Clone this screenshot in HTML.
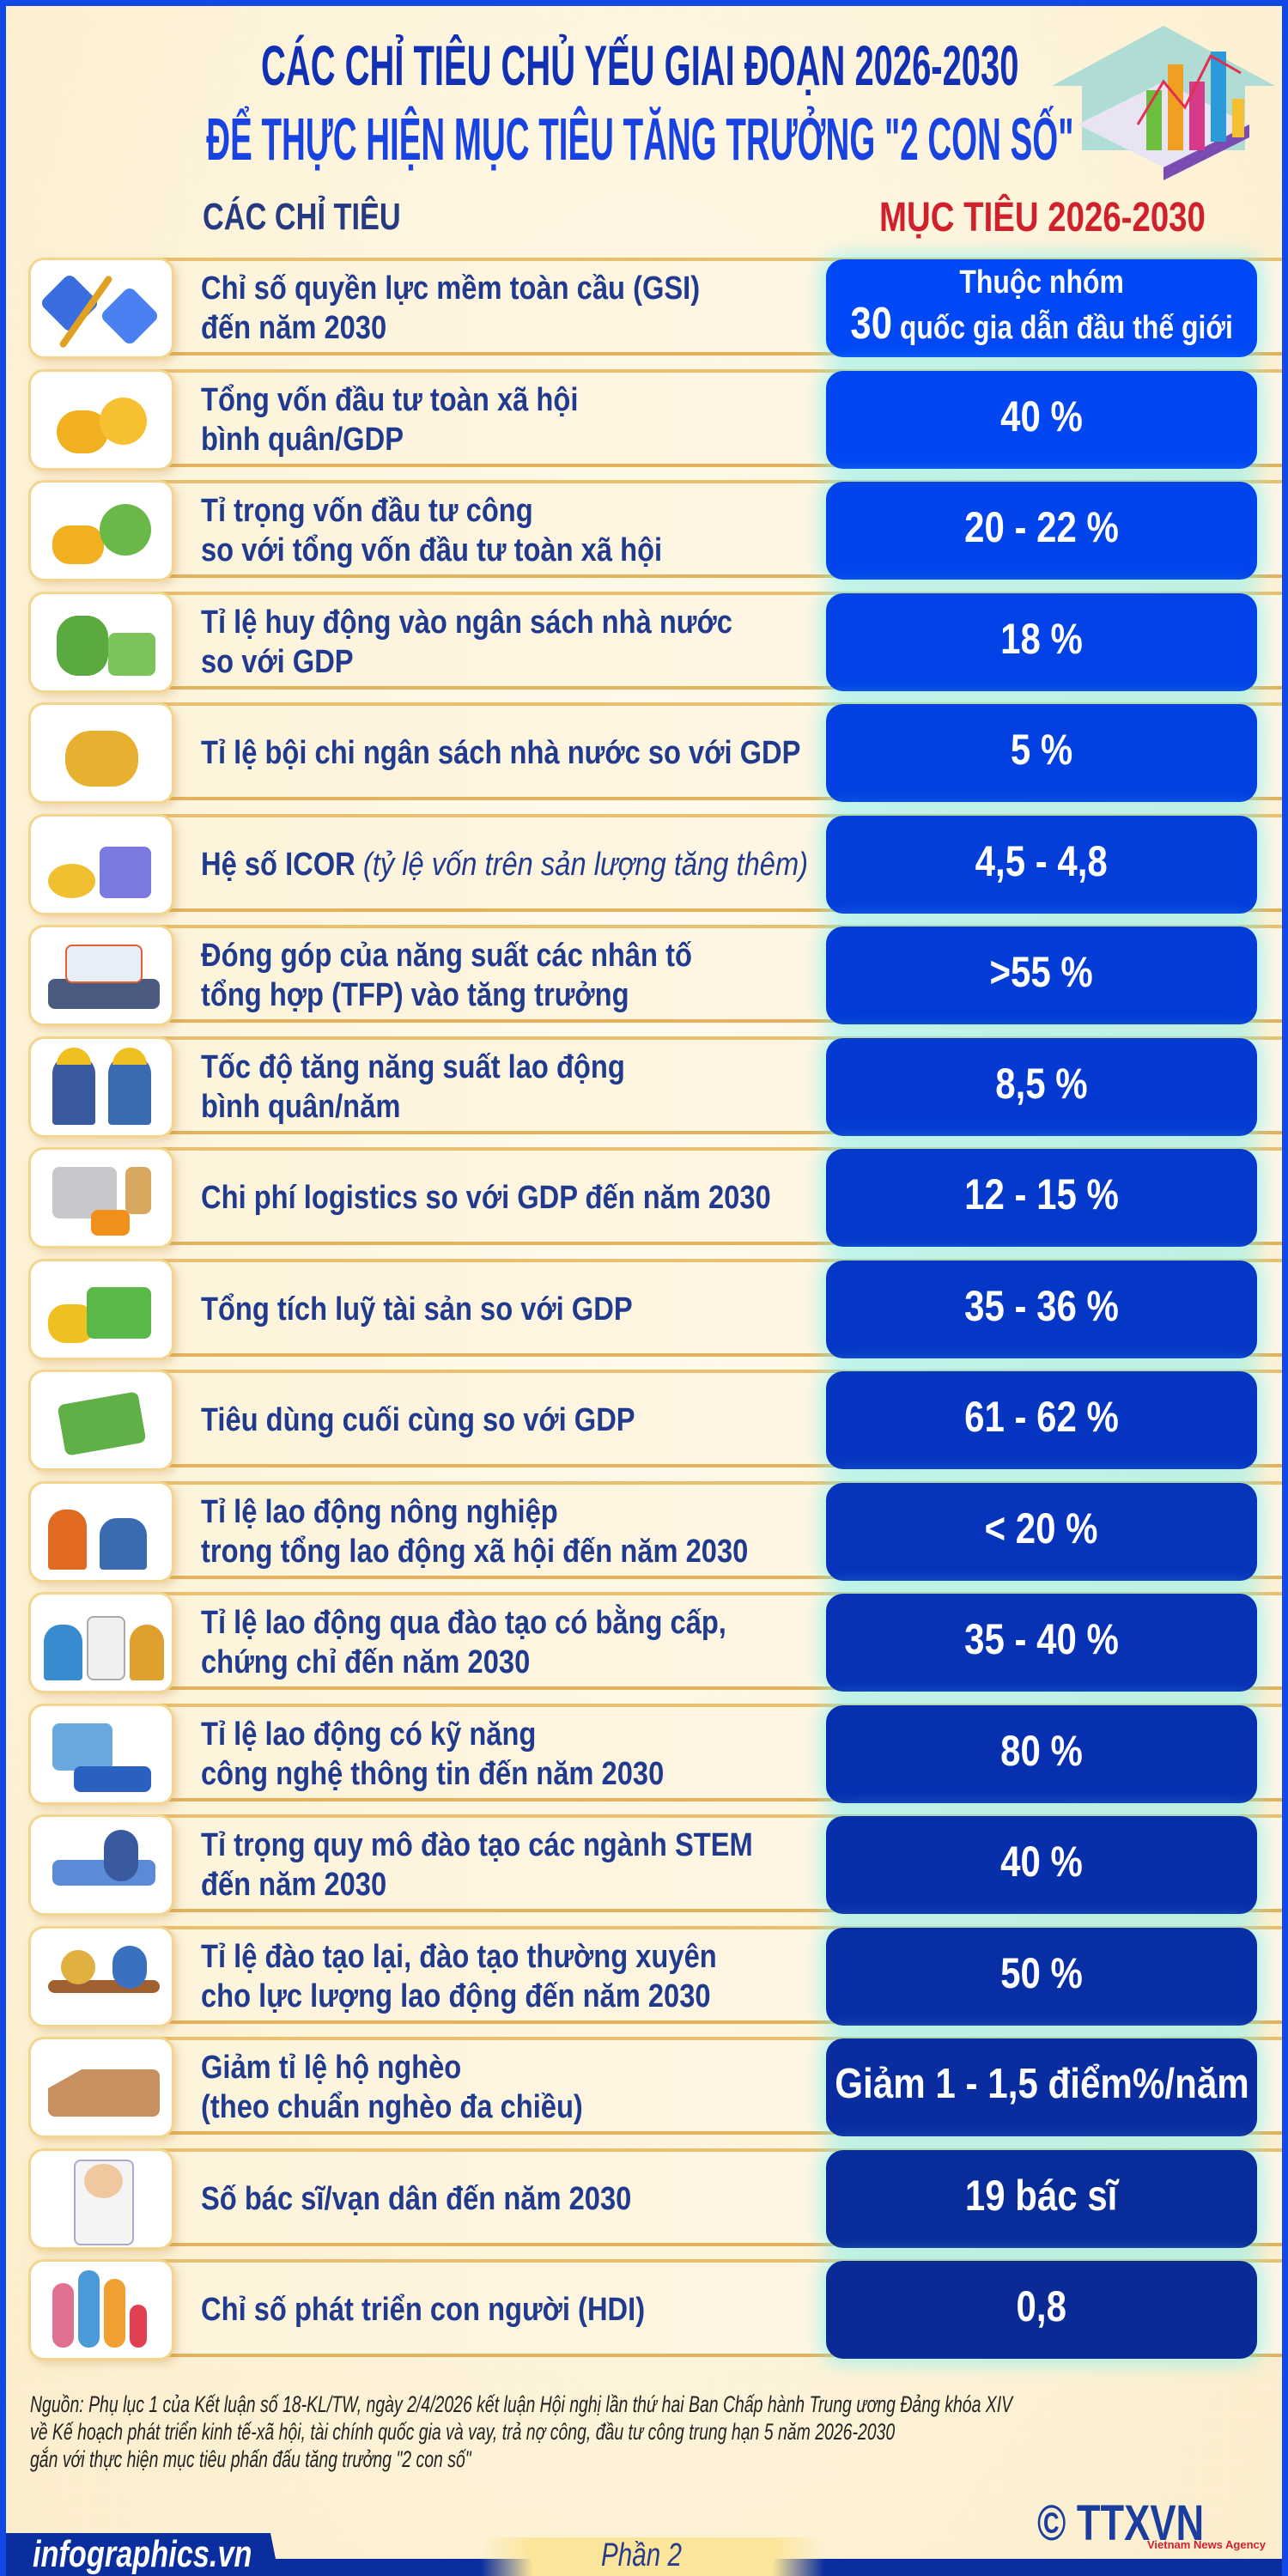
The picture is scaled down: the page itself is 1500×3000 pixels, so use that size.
<!DOCTYPE html>
<html><head><meta charset="utf-8">
<style>
*{margin:0;padding:0;box-sizing:border-box}
body{width:1500px;height:3000px;position:relative;overflow:hidden;font-family:"Liberation Sans","Noto Sans CJK SC",sans-serif;
background:radial-gradient(ellipse at 50% 40%,#fffbef 0%,#fdf2d6 70%,#fbedcb 100%);}
.frame{position:absolute;left:0;top:0;width:1500px;height:3000px;border:7px solid #1248e6;border-bottom:none;pointer-events:none}
.t{position:absolute;white-space:nowrap;font-weight:bold}
.c{display:inline-block;transform:scaleX(.78);transform-origin:left center}
.title{position:absolute;left:0;width:1490px;display:flex;justify-content:center;white-space:nowrap;font-weight:bold}
.title span{display:inline-block;flex:none}
.row{position:absolute;left:100px;width:1394px;height:114px;background:linear-gradient(90deg,#fdf3da,#fef6e3 60%,#fdf6e6);
border-top:4px solid #e9c070;border-bottom:4px solid #e2b25c}
.icon{position:absolute;left:33px;width:170px;height:118px;background:#fff;border:3px solid #f2d58e;border-radius:18px;box-shadow:4px 4px 10px rgba(200,150,80,.35);overflow:hidden}
.lbl{position:absolute;left:234px;width:700px;height:114px;display:flex;align-items:center;color:#203a8e;font-weight:bold;font-size:38px;line-height:46px}
.lbl span{display:inline-block;transform:scaleX(.86);transform-origin:left center;white-space:nowrap}
.val{position:absolute;left:962px;width:502px;height:114px;border-radius:20px;color:#fff;font-weight:bold;font-size:50px;display:flex;align-items:center;justify-content:center;box-shadow:0 0 22px 6px rgba(120,240,240,.6);padding-bottom:8px}
.val span{display:inline-block;transform:scaleX(.84);white-space:nowrap;flex:none;text-align:center}
.ic1{position:absolute;border-radius:8px}
</style></head><body>

<!-- top-right icon -->
<svg style="position:absolute;left:1215px;top:25px" width="280" height="185" viewBox="0 0 280 185">
<polygon points="140,5 270,75 235,75 235,150 45,150 45,75 10,75" fill="#8fd3d6" opacity=".7"/>
<polygon points="140,170 240,120 140,70 40,120" fill="#e8e4f4"/>
<polygon points="140,185 240,135 240,120 140,170" fill="#7a4bb0"/>
<rect x="120" y="80" width="18" height="70" fill="#6cbf3e"/><rect x="145" y="50" width="18" height="100" fill="#f0a020"/>
<rect x="170" y="70" width="18" height="80" fill="#d83a8a"/><rect x="195" y="35" width="18" height="105" fill="#2a9ad8"/>
<rect x="220" y="90" width="14" height="45" fill="#f5c030"/>
<polyline points="110,120 140,70 165,100 195,40 230,60" stroke="#e03050" stroke-width="3" fill="none"/>
</svg>

<div class="title" style="top:38px;font-size:66px;color:#1230b4"><span style="transform:scaleX(.605)">CÁC CHỈ TIÊU CHỦ YẾU GIAI ĐOẠN 2026-2030</span></div>
<div class="title" style="top:122px;font-size:70px;color:#1843e0"><span style="transform:scaleX(.55)">ĐỂ THỰC HIỆN MỤC TIÊU TĂNG TRƯỞNG "2 CON SỐ"</span></div>

<div class="t" style="left:236px;top:228px;font-size:44px;color:#253a80"><span class="c">CÁC CHỈ TIÊU</span></div>
<div class="t" style="left:1024px;top:226px;font-size:48px;color:#d0202c"><span class="c" style="transform:scaleX(.8)">MỤC TIÊU 2026-2030</span></div>

<!-- rows -->
<div class="row" style="top:300px"></div>
<div class="row" style="top:430px"></div>
<div class="row" style="top:559px"></div>
<div class="row" style="top:689px"></div>
<div class="row" style="top:818px"></div>
<div class="row" style="top:948px"></div>
<div class="row" style="top:1077px"></div>
<div class="row" style="top:1207px"></div>
<div class="row" style="top:1336px"></div>
<div class="row" style="top:1466px"></div>
<div class="row" style="top:1595px"></div>
<div class="row" style="top:1725px"></div>
<div class="row" style="top:1854px"></div>
<div class="row" style="top:1984px"></div>
<div class="row" style="top:2113px"></div>
<div class="row" style="top:2243px"></div>
<div class="row" style="top:2372px"></div>
<div class="row" style="top:2502px"></div>
<div class="row" style="top:2631px"></div>

<!-- icons -->
<div class="icon" style="top:300px"><div class="ic1" style="left:20px;top:25px;width:50px;height:50px;background:#3a6ee0;transform:rotate(45deg)"></div><div class="ic1" style="left:90px;top:40px;width:50px;height:50px;background:#4a80f0;transform:rotate(45deg)"></div><div class="ic1" style="left:60px;top:10px;width:8px;height:100px;background:#e0a020;transform:rotate(35deg)"></div></div>
<div class="icon" style="top:430px"><div class="ic1" style="left:30px;top:45px;width:60px;height:50px;background:#f0b020;border-radius:30px"></div><div class="ic1" style="left:80px;top:30px;width:55px;height:55px;background:#f6c030;border-radius:50%"></div></div>
<div class="icon" style="top:559px"><div class="ic1" style="left:25px;top:50px;width:60px;height:45px;background:#f0b020;border-radius:20px"></div><div class="ic1" style="left:80px;top:25px;width:60px;height:60px;background:#6ab848;border-radius:50%"></div></div>
<div class="icon" style="top:689px"><div class="ic1" style="left:30px;top:25px;width:60px;height:70px;background:#5aaa40;border-radius:25px"></div><div class="ic1" style="left:90px;top:45px;width:55px;height:50px;background:#7cc45a"></div></div>
<div class="icon" style="top:818px"><div class="ic1" style="left:40px;top:30px;width:85px;height:65px;background:#e8b030;border-radius:30px"></div></div>
<div class="icon" style="top:948px"><div class="ic1" style="left:20px;top:55px;width:55px;height:40px;background:#f0c030;border-radius:50%"></div><div class="ic1" style="left:80px;top:35px;width:60px;height:60px;background:#7a7ae0"></div></div>
<div class="icon" style="top:1077px"><div class="ic1" style="left:20px;top:60px;width:130px;height:35px;background:#4a5a80"></div><div class="ic1" style="left:40px;top:20px;width:90px;height:45px;background:#e8eef8;border:2px solid #e06030"></div></div>
<div class="icon" style="top:1207px"><div class="ic1" style="left:25px;top:20px;width:50px;height:80px;background:#3a5aa0;border-radius:20px 20px 4px 4px"></div><div class="ic1" style="left:90px;top:20px;width:50px;height:80px;background:#3a6ab0;border-radius:20px 20px 4px 4px"></div><div class="ic1" style="left:30px;top:10px;width:40px;height:20px;background:#f0c020;border-radius:20px 20px 0 0"></div><div class="ic1" style="left:95px;top:10px;width:40px;height:20px;background:#f0c020;border-radius:20px 20px 0 0"></div></div>
<div class="icon" style="top:1336px"><div class="ic1" style="left:25px;top:20px;width:75px;height:60px;background:#c8c8cc"></div><div class="ic1" style="left:70px;top:70px;width:45px;height:30px;background:#f0901a"></div><div class="ic1" style="left:110px;top:20px;width:30px;height:55px;background:#d8a860"></div></div>
<div class="icon" style="top:1466px"><div class="ic1" style="left:20px;top:50px;width:55px;height:45px;background:#f0c020;border-radius:20px"></div><div class="ic1" style="left:65px;top:30px;width:75px;height:60px;background:#5ab848"></div></div>
<div class="icon" style="top:1595px"><div class="ic1" style="left:35px;top:30px;width:95px;height:60px;background:#60b048;transform:rotate(-10deg)"></div></div>
<div class="icon" style="top:1725px"><div class="ic1" style="left:20px;top:30px;width:45px;height:70px;background:#e06a20;border-radius:20px 20px 4px 4px"></div><div class="ic1" style="left:80px;top:40px;width:55px;height:60px;background:#3a6ab0;border-radius:20px 20px 4px 4px"></div></div>
<div class="icon" style="top:1854px"><div class="ic1" style="left:15px;top:35px;width:45px;height:65px;background:#3a8ad0;border-radius:20px 20px 4px 4px"></div><div class="ic1" style="left:65px;top:25px;width:45px;height:75px;background:#f0f0f0;border:2px solid #aaa"></div><div class="ic1" style="left:115px;top:35px;width:40px;height:65px;background:#e0a030;border-radius:20px 20px 4px 4px"></div></div>
<div class="icon" style="top:1984px"><div class="ic1" style="left:25px;top:20px;width:70px;height:55px;background:#6aa8e0"></div><div class="ic1" style="left:50px;top:70px;width:90px;height:30px;background:#2a60c0"></div></div>
<div class="icon" style="top:2113px"><div class="ic1" style="left:25px;top:50px;width:120px;height:30px;background:#5a8ad8"></div><div class="ic1" style="left:85px;top:15px;width:40px;height:60px;background:#3a5aa0;border-radius:20px"></div></div>
<div class="icon" style="top:2243px"><div class="ic1" style="left:20px;top:60px;width:130px;height:15px;background:#a06030"></div><div class="ic1" style="left:35px;top:25px;width:40px;height:40px;background:#e0b040;border-radius:50%"></div><div class="ic1" style="left:95px;top:20px;width:40px;height:50px;background:#3a70c0;border-radius:20px"></div></div>
<div class="icon" style="top:2372px"><div class="ic1" style="left:20px;top:35px;width:130px;height:55px;background:#c89060;clip-path:polygon(0 40%,30% 0,100% 0,100% 100%,0 100%)"></div></div>
<div class="icon" style="top:2502px"><div class="ic1" style="left:50px;top:10px;width:70px;height:100px;background:#f4f4f4;border:2px solid #aac"></div><div class="ic1" style="left:62px;top:15px;width:45px;height:40px;background:#f0c8a0;border-radius:50%"></div></div>
<div class="icon" style="top:2631px"><div class="ic1" style="left:25px;top:25px;width:25px;height:75px;background:#e07090;border-radius:12px"></div><div class="ic1" style="left:55px;top:10px;width:25px;height:90px;background:#4a9ad8;border-radius:12px"></div><div class="ic1" style="left:85px;top:20px;width:25px;height:80px;background:#f0a030;border-radius:12px"></div><div class="ic1" style="left:115px;top:50px;width:20px;height:50px;background:#e04050;border-radius:10px"></div></div>

<!-- labels -->
<div class="lbl" style="top:302px"><span>Chỉ số quyền lực mềm toàn cầu (GSI)<br>đến năm 2030</span></div>
<div class="lbl" style="top:432px"><span>Tổng vốn đầu tư toàn xã hội<br>bình quân/GDP</span></div>
<div class="lbl" style="top:561px"><span>Tỉ trọng vốn đầu tư công<br>so với tổng vốn đầu tư toàn xã hội</span></div>
<div class="lbl" style="top:691px"><span>Tỉ lệ huy động vào ngân sách nhà nước<br>so với GDP</span></div>
<div class="lbl" style="top:820px"><span>Tỉ lệ bội chi ngân sách nhà nước so với GDP</span></div>
<div class="lbl" style="top:950px"><span>Hệ số ICOR <i style="font-weight:normal">(tỷ lệ vốn trên sản lượng tăng thêm)</i></span></div>
<div class="lbl" style="top:1079px"><span>Đóng góp của năng suất các nhân tố<br>tổng hợp (TFP) vào tăng trưởng</span></div>
<div class="lbl" style="top:1209px"><span>Tốc độ tăng năng suất lao động<br>bình quân/năm</span></div>
<div class="lbl" style="top:1338px"><span>Chi phí logistics so với GDP đến năm 2030</span></div>
<div class="lbl" style="top:1468px"><span>Tổng tích luỹ tài sản so với GDP</span></div>
<div class="lbl" style="top:1597px"><span>Tiêu dùng cuối cùng so với GDP</span></div>
<div class="lbl" style="top:1727px"><span>Tỉ lệ lao động nông nghiệp<br>trong tổng lao động xã hội đến năm 2030</span></div>
<div class="lbl" style="top:1856px"><span>Tỉ lệ lao động qua đào tạo có bằng cấp,<br>chứng chỉ đến năm 2030</span></div>
<div class="lbl" style="top:1986px"><span>Tỉ lệ lao động có kỹ năng<br>công nghệ thông tin đến năm 2030</span></div>
<div class="lbl" style="top:2115px"><span>Tỉ trọng quy mô đào tạo các ngành STEM<br>đến năm 2030</span></div>
<div class="lbl" style="top:2245px"><span>Tỉ lệ đào tạo lại, đào tạo thường xuyên<br>cho lực lượng lao động đến năm 2030</span></div>
<div class="lbl" style="top:2374px"><span>Giảm tỉ lệ hộ nghèo<br>(theo chuẩn nghèo đa chiều)</span></div>
<div class="lbl" style="top:2504px"><span>Số bác sĩ/vạn dân đến năm 2030</span></div>
<div class="lbl" style="top:2633px"><span>Chỉ số phát triển con người (HDI)</span></div>

<!-- values -->
<div class="val" style="top:302px;background:rgb(0,72,246);font-size:38px;line-height:48px"><span>Thuộc nhóm<br><b style="font-size:52px">30</b> quốc gia dẫn đầu thế giới</span></div>
<div class="val" style="top:432px;background:rgb(1,70,241)"><span>40 %</span></div>
<div class="val" style="top:561px;background:rgb(1,68,235)"><span>20 - 22 %</span></div>
<div class="val" style="top:691px;background:rgb(2,66,230)"><span>18 %</span></div>
<div class="val" style="top:820px;background:rgb(2,64,225)"><span>5 %</span></div>
<div class="val" style="top:950px;background:rgb(3,62,219)"><span>4,5 - 4,8</span></div>
<div class="val" style="top:1079px;background:rgb(3,60,214)"><span>&gt;55 %</span></div>
<div class="val" style="top:1209px;background:rgb(4,58,209)"><span>8,5 %</span></div>
<div class="val" style="top:1338px;background:rgb(4,57,203)"><span>12 - 15 %</span></div>
<div class="val" style="top:1468px;background:rgb(5,55,198)"><span>35 - 36 %</span></div>
<div class="val" style="top:1597px;background:rgb(6,53,193)"><span>61 - 62 %</span></div>
<div class="val" style="top:1727px;background:rgb(6,52,187)"><span>&lt; 20 %</span></div>
<div class="val" style="top:1856px;background:rgb(7,50,182)"><span>35 - 40 %</span></div>
<div class="val" style="top:1986px;background:rgb(7,48,177)"><span>80 %</span></div>
<div class="val" style="top:2115px;background:rgb(8,47,171)"><span>40 %</span></div>
<div class="val" style="top:2245px;background:rgb(8,46,166)"><span>50 %</span></div>
<div class="val" style="top:2374px;background:rgb(9,45,161);font-size:49px"><span style="transform:scaleX(.86)">Giảm 1 - 1,5 điểm%/năm</span></div>
<div class="val" style="top:2504px;background:rgb(9,44,155)"><span>19 bác sĩ</span></div>
<div class="val" style="top:2633px;background:rgb(10,42,150)"><span>0,8</span></div>

<!-- source -->
<div style="position:absolute;left:35px;top:2784px;font-size:27px;line-height:32px;font-style:italic;color:#222;white-space:nowrap"><span style="display:inline-block;transform:scaleX(.72);transform-origin:left center">Nguồn: Phụ lục 1 của Kết luận số 18-KL/TW, ngày 2/4/2026 kết luận Hội nghị lần thứ hai Ban Chấp hành Trung ương Đảng khóa XIV<br>về Kế hoạch phát triển kinh tế-xã hội, tài chính quốc gia và vay, trả nợ công, đầu tư công trung hạn 5 năm 2026-2030<br>gắn với thực hiện mục tiêu phấn đấu tăng trưởng "2 con số"</span></div>

<!-- logo -->
<div class="t" style="left:1208px;top:2905px;font-size:58px;color:#1b3d9e"><span class="c">© TTXVN</span></div>
<div class="t" style="left:1336px;top:2956px;font-size:13px;color:#d02030">Vietnam News Agency</div>

<!-- bottom bar -->
<div style="position:absolute;left:0;top:2980px;width:1500px;height:20px;background:#0b2e9e"></div>
<div style="position:absolute;left:0;top:2950px;width:325px;height:50px;background:#0b2e9e;clip-path:polygon(0 0,315px 0,325px 100%,0 100%)"></div>
<div style="position:absolute;left:560px;top:2955px;width:400px;height:45px;background:linear-gradient(90deg,rgba(250,230,150,0),#fbe59a 15%,#fbe59a 85%,rgba(250,230,150,0))"></div>
<div class="t" style="left:38px;top:2950px;font-size:44px;color:#fff;font-style:italic"><span class="c">infographics.vn</span></div>
<div style="position:absolute;left:700px;top:2955px;font-size:38px;color:#2a3a8a;font-style:italic;white-space:nowrap"><span class="c">Phần 2</span></div>

<div class="frame"></div>
</body></html>
